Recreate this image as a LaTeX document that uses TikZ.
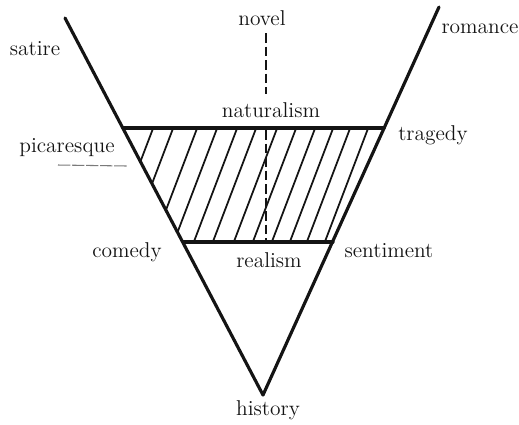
\documentclass[tikz,border=0pt]{standalone}
\usepackage{xcolor}
\usepackage{tikz}
\definecolor{inkdark}{HTML}{141414}
\definecolor{smudgegray}{HTML}{7A7A7A}
\tikzset{
  arm/.style={inkdark, line width=1.8pt, line cap=round, line join=round},
  hatch/.style={inkdark, line width=1pt},
  axisdash/.style={inkdark, line width=1.1pt, dash pattern=on 5.5pt off 2.2pt},
  lbl/.style={anchor=base, inner sep=1pt, text=inkdark}
}

\begin{document}
\begin{tikzpicture}[x=0.02cm, y=-0.02cm, font=\fontsize{12.2}{14}\selectfont]
\useasboundingbox (0,0) rectangle (519,424);
% ends of the two arms and the apex (pixel grid of the scan, y downwards)
\coordinate (sattop) at (65,18);
\coordinate (romtop) at (439,7);
\coordinate (apex)   at (263,395);
% corners of the shaded band
\coordinate (natl) at (123,128);
\coordinate (natr) at (384,128);
\coordinate (reall) at (183,242);
\coordinate (realr) at (333,242);
% hatching, clipped to the band
\begin{scope}
  \clip (natl) -- (natr) -- (realr) -- (reall) -- cycle;
  \foreach \t in {153,173,197,217,237,256,277,296,315,333,350,368,386} {
    \draw[hatch] (\t+4,118) -- ++(-51,134);
  }
\end{scope}
\draw[arm] (sattop) -- (apex) -- (romtop);
\draw[arm] (natl) -- (natr);
\draw[arm] (reall) -- (realr);
% labels
\node[lbl] (satire)  at (35,55)   {satire};
\node[lbl] (novel)   at (262,25)  {novel};
\node[lbl] (romance) at (480,33)  {romance};
\node[lbl] (natur)   at (271,117) {naturalism};
\node[lbl] (picar)   at (67,152)  {picaresque};
\node[lbl] (tragedy) at (433,140) {tragedy};
\node[lbl] (comedy)  at (127,257) {comedy};
\node[lbl] (realism) at (269,267) {realism};
\node[lbl] (sentim)  at (389,257) {sentiment};
\node[lbl] (history) at (268,415) {history};
% novel axis, broken by the naturalism label
\coordinate (dashtop) at (266,33);
\coordinate (dashbot) at (266,94);
\coordinate (dashin)  at (266,130);
\coordinate (dashout) at (266,240);
\draw[axisdash] (dashtop) -- (dashbot);
\draw[axisdash] (dashin) -- (dashout);
% stray rule under picaresque
\coordinate (rulel) at (58,165);
\coordinate (ruler) at (127,166);
\draw[smudgegray, line width=0.6pt, dash pattern=on 7pt off 1pt] (rulel) -- (ruler);
\end{tikzpicture}
\end{document}
